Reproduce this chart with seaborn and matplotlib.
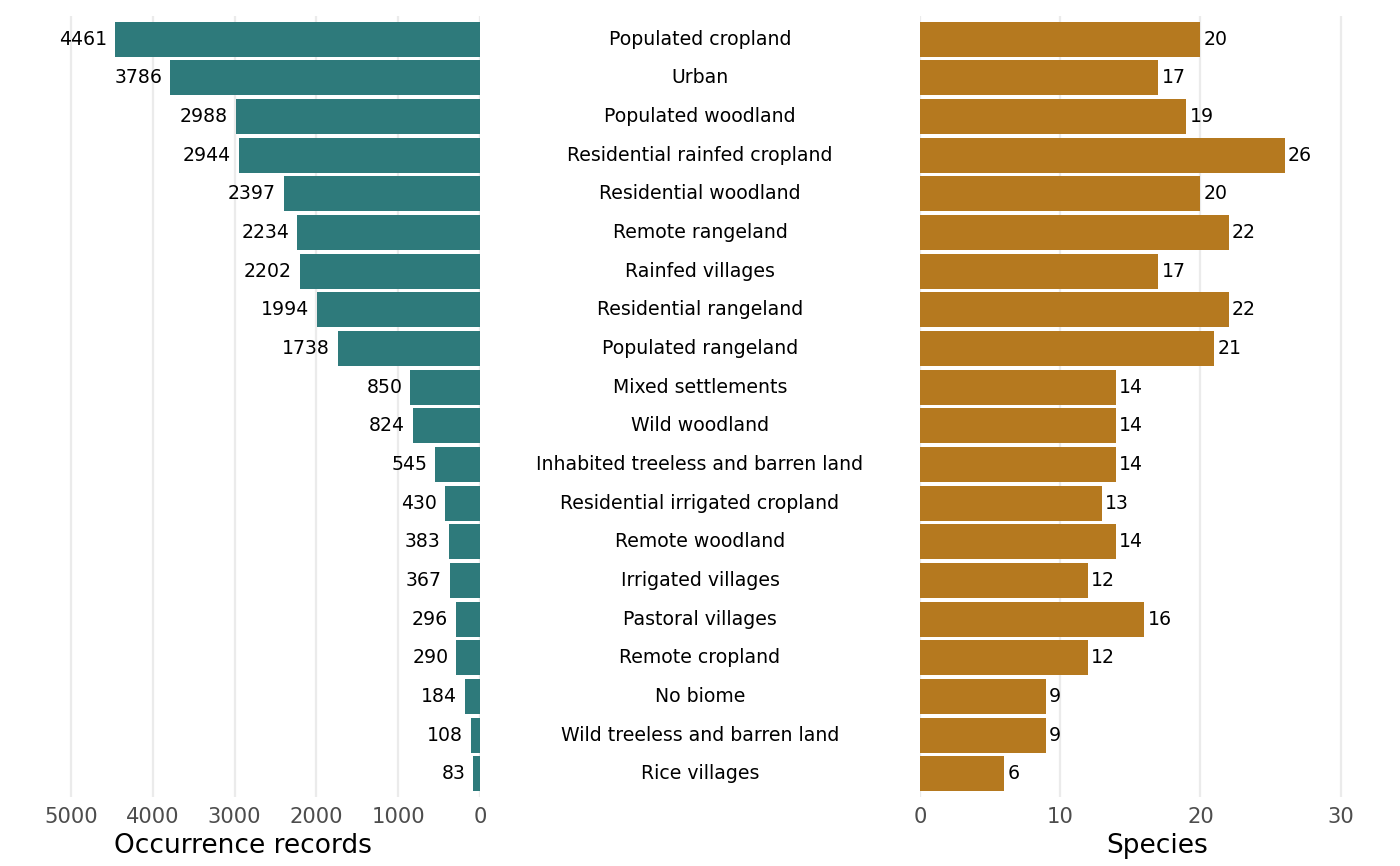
import numpy as np
import pandas as pd
import matplotlib
matplotlib.use("Agg")
import matplotlib.pyplot as plt
import seaborn as sns

sns.set_style("white")
plt.rcParams['font.family'] = ['DejaVu Sans']

biomes = ["Populated cropland", "Urban", "Populated woodland",
          "Residential rainfed cropland", "Residential woodland",
          "Remote rangeland", "Rainfed villages", "Residential rangeland",
          "Populated rangeland", "Mixed settlements", "Wild woodland",
          "Inhabited treeless and barren land", "Residential irrigated cropland",
          "Remote woodland", "Irrigated villages", "Pastoral villages",
          "Remote cropland", "No biome", "Wild treeless and barren land",
          "Rice villages"]
records = [4461, 3786, 2988, 2944, 2397, 2234, 2202, 1994, 1738, 850,
           824, 545, 430, 383, 367, 296, 290, 184, 108, 83]
species = [20, 17, 19, 26, 20, 22, 17, 22, 21, 14,
           14, 14, 13, 14, 12, 16, 12, 9, 9, 6]

df = pd.DataFrame({"biome": biomes, "records": records, "species": species})

teal = "#2e7a7b"
brown = "#b5791f"
grid_col = "#ebebeb"

W, H = 1400, 866
fig = plt.figure(figsize=(14, 8.66), dpi=100)

top_px, bot_px = 16, 797
ax_b = (H - bot_px) / H
ax_h = (bot_px - top_px) / H

ax_l = fig.add_axes([6 / W, ax_b, (480 - 6) / W, ax_h])
ax_c = fig.add_axes([480 / W, ax_b, 440 / W, ax_h])
ax_r = fig.add_axes([920 / W, ax_b, (1394 - 920) / W, ax_h])

sns.barplot(data=df, y="biome", x="records", color=teal, width=0.9,
            saturation=1, orient="h", ax=ax_l, zorder=2)
sns.barplot(data=df, y="biome", x="species", color=brown, width=0.9,
            saturation=1, orient="h", ax=ax_r, zorder=2)

ax_l.set_xlim(5795, 0)
ax_r.set_xlim(0, 33.8)
ax_l.set_xticks([5000, 4000, 3000, 2000, 1000, 0])
ax_r.set_xticks([0, 10, 20, 30])

for ax in (ax_l, ax_c, ax_r):
    ax.set_ylim(len(biomes) - 0.4, -0.6)
    for s in ax.spines.values():
        s.set_visible(False)
    ax.set_ylabel("")
    ax.set_xlabel("")
    ax.set_yticks([])

for ax in (ax_l, ax_r):
    ax.grid(axis="x", color=grid_col, linewidth=1.6, zorder=0)
    ax.set_axisbelow(True)
    ax.tick_params(axis="x", length=0, labelsize=15.2, labelcolor="#4d4d4d", pad=7)
    for p in ax.patches:
        p.set_linewidth(0)

for i, v in enumerate(records):
    ax_l.annotate(str(v), (v, i), xytext=(-8, 0), textcoords="offset pixels",
                  ha="right", va="center", fontsize=13.6, color="black")
for i, v in enumerate(species):
    ax_r.annotate(str(v), (v, i), xytext=(3, 0), textcoords="offset pixels",
                  ha="left", va="center", fontsize=13.6, color="black")

ax_c.set_xlim(0, 1)
ax_c.set_xticks([])
for i, b in enumerate(biomes):
    ax_c.text(0.5, i, b, ha="center", va="center", fontsize=13.6, color="black")

fig.text(243 / W, 1 - 846 / H, "Occurrence records", ha="center", va="center",
         fontsize=19, color="black")
fig.text(1157 / W, 1 - 846 / H, "Species", ha="center", va="center",
         fontsize=19, color="black")

fig.savefig("out.png", dpi=100)
